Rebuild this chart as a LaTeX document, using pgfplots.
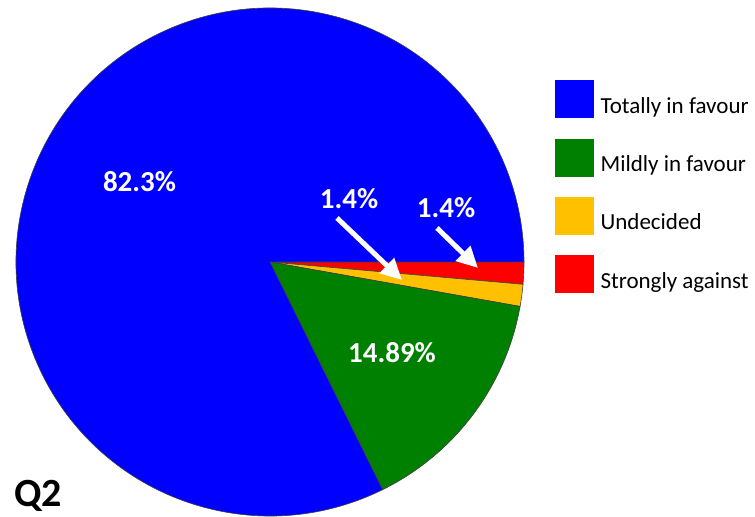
\documentclass[border=0pt]{standalone}
\usepackage{fontspec}
\setmainfont{Carlito}
\usepackage{pgfplots}
\pgfplotsset{compat=1.18}
\usetikzlibrary{arrows.meta}
\definecolor{pieblue}{RGB}{0,0,255}
\definecolor{piegreen}{RGB}{0,128,0}
\definecolor{pieyellow}{RGB}{255,192,0}
\definecolor{piered}{RGB}{255,0,0}
\begin{document}
\begin{tikzpicture}
\begin{axis}[
  width=755bp, height=517bp, scale only axis,
  xmin=0, xmax=755, ymin=0, ymax=517,
  hide axis, clip=false,
  legend cell align=left,
  legend image code/.code={\fill[#1] (0bp,-11.5bp) rectangle (38bp,25.5bp);},
  legend style={at={(axis cs:555,437)}, anchor=north west, draw=none, fill=none,
    inner sep=0pt, row sep=21bp, column sep=7bp,
    nodes={inner sep=0pt}, font=\fontsize{23bp}{27bp}\selectfont},
]
\addlegendimage{pieblue}
\addlegendentry{Totally in favour}
\addlegendimage{piegreen}
\addlegendentry{Mildly in favour}
\addlegendimage{pieyellow}
\addlegendentry{Undecided}
\addlegendimage{piered}
\addlegendentry{Strongly against}
\coordinate (SW) at (axis cs:0,0);
\coordinate (NE) at (axis cs:755,517);
\pgfplotsextra{
  \gdef\cum{0}
  \foreach \v/\c in {1.4/piered, 1.4/pieyellow, 14.89/piegreen, 82.3/pieblue}{
    \pgfmathsetmacro\a{\cum}
    \pgfmathsetmacro\b{\cum-\v*3.6}
    \fill[\c, draw=black!75, line width=0.6bp] (axis cs:270,255) -- ++(\a:254bp)
      arc[start angle=\a, end angle=\b, radius=254bp] -- cycle;
    \xdef\cum{\b}
  }
}
\draw[white, line width=5bp, -{Triangle[width=20bp,length=21bp]}] (axis cs:337,299) -- (axis cs:402,237);
\draw[white, line width=5bp, -{Triangle[width=20bp,length=21bp]}] (axis cs:437,289) -- (axis cs:478,249);
\node[anchor=base, inner sep=0pt, text=white, font=\fontsize{29bp}{34bp}\selectfont\bfseries] at (axis cs:139.5,325) {82.3\%};
\node[anchor=base, inner sep=0pt, text=white, font=\fontsize{29bp}{34bp}\selectfont\bfseries] at (axis cs:392,154) {14.89\%};
\node[anchor=base, inner sep=0pt, text=white, font=\fontsize{29bp}{34bp}\selectfont\bfseries] at (axis cs:349,308) {1.4\%};
\node[anchor=base, inner sep=0pt, text=white, font=\fontsize{29bp}{34bp}\selectfont\bfseries] at (axis cs:446,299) {1.4\%};
\node[anchor=base west, inner sep=0pt, font=\fontsize{40bp}{48bp}\selectfont\bfseries] at (axis cs:14,11) {Q2};
\end{axis}
\pgfresetboundingbox
\path (SW) rectangle (NE);
\end{tikzpicture}
\end{document}
